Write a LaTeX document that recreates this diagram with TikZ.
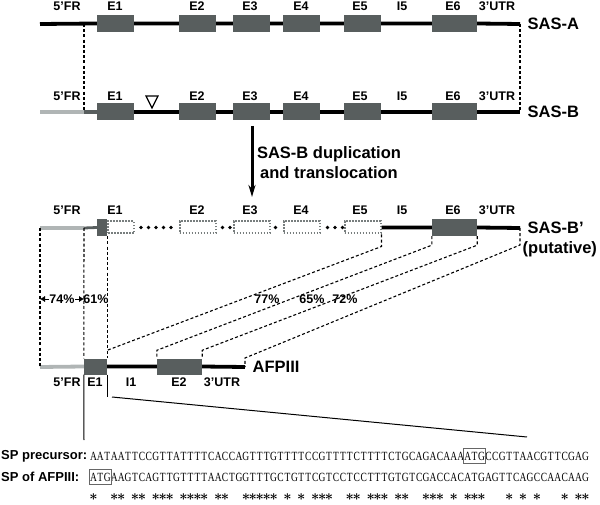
\documentclass[tikz,border=0pt]{standalone}
\usepackage{fontspec}
\setsansfont{Liberation Sans}
\newfontfamily\seqfont{Liberation Serif}
\usepackage{xstring}
\usetikzlibrary{arrows.meta,fit}
\definecolor{exongray}{RGB}{88,94,94}
\definecolor{frgray}{RGB}{176,181,181}
\definecolor{dotgray}{RGB}{120,126,126}
\tikzset{
  gene/.style={line width=3.8pt},
  exon/.style={fill=exongray, inner sep=0pt, minimum height=17pt},
  ghost/.style={draw=dotgray, line width=2pt, dash pattern=on 1.6pt off 1.4pt, inner sep=0pt, minimum height=12pt},
  beads/.style={line width=3.8pt, line cap=round, dash pattern=on 0pt off 7.5pt},
  link/.style={line width=1.1pt, dash pattern=on 3pt off 2.2pt},
  lab/.style={font=\sffamily\bfseries\fontsize{12.5}{12.5}\selectfont, inner sep=0.5pt},
  big/.style={font=\sffamily\bfseries\fontsize{16.5}{20}\selectfont, inner sep=0.5pt},
  seqlab/.style={font=\sffamily\bfseries\fontsize{13}{13}\selectfont, inner sep=0pt, anchor=west},
  nt/.style={anchor=base, inner sep=0pt, font=\seqfont\fontsize{12.5}{12.5}\selectfont},
  idmark/.style={inner sep=0pt, font=\fontsize{13.5}{13.5}\selectfont\boldmath},
  atgbox/.style={draw=black!60, line width=0.7pt, inner xsep=0.3pt, inner ysep=3pt},
}
% letters of both sequences on one grid, a mark where they agree
\newcommand\seqpair[2]{%
  \foreach \i in {1,...,72}{%
    \StrChar{#1}{\i}[\resA]\StrChar{#2}{\i}[\resB]%
    \node[nt] (s\i) at ({90+(\i-0.5)*6.93},460) {\scalebox{0.76}[1]{\resA}};
    \node[nt] (t\i) at ({90+(\i-0.5)*6.93},481) {\scalebox{0.76}[1]{\resB}};
    \ifx\resA\resB \node[idmark] (m\i) at ({90+(\i-0.5)*6.93},497) {$\ast$};\fi
  }}

\begin{document}
\begin{tikzpicture}[x=1pt,y=-1pt]
			%%%%% START %%%%%
			\useasboundingbox (0,0) rectangle (600,505);
			
			%%%%% SAS-A
			\coordinate (a-start) at (40,24);
			\coordinate (a-fr) at (84,24);
			\coordinate (a-end) at (520,24);
			\node[exon, minimum width=37pt] (a1) at (115.5,23.5) {};
			\node[exon, minimum width=37pt] (a2) at (197.5,23.5) {};
			\node[exon, minimum width=37pt] (a3) at (251.5,23.5) {};
			\node[exon, minimum width=37pt] (a4) at (301.5,23.5) {};
			\node[exon, minimum width=37pt] (a5) at (362.5,23.5) {};
			\node[exon, minimum width=45pt] (a6) at (454.5,23.5) {};
			\draw[gene] (a-start) -- (a1.west) (a1.east) -- (a2.west) (a2.east) -- (a3.west)
				(a3.east) -- (a4.west) (a4.east) -- (a5.west) (a5.east) -- (a6.west) (a6.east) -- (a-end);
			\foreach \x/\t [count=\k] in {67/5'FR, 115/E1, 197/E2, 250/E3, 301/E4, 360/E5, 402/I5, 453/E6, 497/3'UTR}
				\node[lab] (la\k) at (\x,6) {\t};
			\node[big, anchor=west] (sasA) at (527,24) {SAS-A};
			
			%%%%% SAS-B
			\coordinate (b-start) at (40,112);
			\coordinate (b-fr) at (84,112);
			\coordinate (b-end) at (520,112);
			\node[exon, minimum width=37pt] (b1) at (115.5,112) {};
			\node[exon, minimum width=37pt] (b2) at (197.5,112) {};
			\node[exon, minimum width=37pt] (b3) at (251.5,112) {};
			\node[exon, minimum width=37pt] (b4) at (301.5,112) {};
			\node[exon, minimum width=37pt] (b5) at (362.5,112) {};
			\node[exon, minimum width=45pt] (b6) at (454.5,112) {};
			\draw[gene, frgray] (b-start) -- (b-fr);
			\draw[gene, exongray] (b-fr) -- (b1.west);
			\draw[gene] (b1.east) -- (b2.west) (b2.east) -- (b3.west)
				(b3.east) -- (b4.west) (b4.east) -- (b5.west) (b5.east) -- (b6.west) (b6.east) -- (b-end);
			\draw[line width=1.2pt] (146,96) -- (158,96) -- (152,108) -- cycle;
			\foreach \x/\t [count=\k] in {67/5'FR, 115/E1, 197/E2, 250/E3, 301/E4, 360/E5, 402/I5, 453/E6, 497/3'UTR}
				\node[lab] (lb\k) at (\x,96) {\t};
			\node[big, anchor=west] (sasB) at (527,112) {SAS-B};
			
			\draw[link] (a-fr) -- (b-fr);
			\draw[link] (a-end) -- (b-end);
			
			%%%%% duplication arrow
			\coordinate (dup-top) at (252,126);
			\coordinate (dup-tip) at (252,197);
			\draw[line width=3pt, -{Stealth[length=12pt,width=7pt]}] (dup-top) -- (dup-tip);
			\node[big, align=center] (dup) at (329,163) {SAS-B duplication\\and translocation};
			
			%%%%% SAS-B' (putative)
			\coordinate (c-start) at (40,228);
			\coordinate (c-fr) at (84,228);
			\coordinate (c-end) at (520,228);
			\node[exon, minimum width=10pt] (c0) at (102,227.5) {};
			\node[ghost, minimum width=26pt] (c1) at (121,227.5) {};
			\node[ghost, minimum width=36pt] (c2) at (197.5,227.5) {};
			\node[ghost, minimum width=36pt] (c3) at (251.5,227.5) {};
			\node[ghost, minimum width=36pt] (c4) at (301.5,227.5) {};
			\node[ghost, minimum width=36pt] (c5) at (362.5,227.5) {};
			\node[exon, minimum width=45pt] (c6) at (454.5,227.5) {};
			\draw[gene, frgray] (c-start) -- (c-fr);
			\draw[gene, exongray, line width=2.8pt] (c-fr) -- (c0.west);
			\draw[beads] ([xshift=6pt]c1.east) -- (c2.west);
			\draw[beads] ([xshift=6pt]c2.east) -- (c3.west);
			\draw[beads] ([xshift=5pt]c3.east) -- (c4.west);
			\draw[beads] ([xshift=7pt]c4.east) -- (c5.west);
			\draw[gene] (c5.east) -- (c6.west) (c6.east) -- (c-end);
			\foreach \x/\t [count=\k] in {67/5'FR, 115/E1, 197/E2, 250/E3, 301/E4, 360/E5, 402/I5, 453/E6, 497/3'UTR}
				\node[lab] (lc\k) at (\x,210) {\t};
			\node[big, anchor=west] (sasBp) at (527,228) {SAS-B'};
			\node[big, anchor=west] (puta) at (522,249) {(putative)};
			
			%%%%% AFPIII
			\coordinate (d-start) at (40,367);
			\coordinate (d-end) at (245,367);
			\node[exon, minimum width=23pt, minimum height=16pt] (d1) at (95.5,366.5) {};
			\node[exon, minimum width=45pt, minimum height=16pt] (d2) at (179.5,366.5) {};
			\draw[gene, frgray] (d-start) -- (d1.west);
			\draw[gene] (d1.east) -- (d2.west) (d2.east) -- (d-end);
			\node[lab] (ld1) at (67,382) {5'FR};
			\node[lab] (ld2) at (95,382) {E1};
			\node[lab] (ld3) at (131,382) {I1};
			\node[lab] (ld4) at (179,382) {E2};
			\node[lab] (ld5) at (222,382) {3'UTR};
			\node[big, anchor=west] (afp) at (252,367) {AFPIII};
			
			%%%%% dashed links SAS-B' -> AFPIII
			\draw[link] (c-start) -- (d-start);
			\draw[link] (c-fr) -- (d1.north west);
			\draw[link] (c0.south east) -- (d1.north east);
			\draw[link] (c5.south east) -- ++(0,12) -- ([yshift=8pt]d1.north east);
			\draw[link] (c6.south west) -- ++(0,9) -- ([yshift=8pt]d2.north west) -- (d2.north west);
			\draw[link] (c6.south east) -- ++(0,9) -- ([yshift=8pt]d2.north east) -- (d2.north east);
			\draw[link] (c-end) -- ++(0,17) -- ([yshift=9pt]d-end) -- (d-end);
			
			\node[lab] (p74) at (62,299) {74\%};
			\draw[-{Latex[length=5pt,width=6pt]}] (p74.west) -- (p74.west -| c-start);
			\draw[-{Latex[length=5pt,width=6pt]}] (p74.east) -- (p74.east -| c-fr);
			\node[lab] (p61) at (96,299) {61\%};
			\node[lab] (p77) at (267,299) {77\%};
			\node[lab] (p65) at (312,299) {65\%};
			\node[lab] (p72) at (345,299) {72\%};
			
			%%%%% zoom onto E1
			\coordinate (zoom-l) at (84,440);
			\coordinate (zoom-a) at (112,397);
			\coordinate (zoom-b) at (527,437);
			\draw[line width=1pt] (d1.south west) -- (zoom-l);
			\draw[line width=1pt] (d1.south east) -- ++(0,22);
			\draw[line width=1pt] (zoom-a) -- (zoom-b);
			
			%%%%% signal peptides
			\node[seqlab] (splab1) at (1,456) {SP precursor:};
			\node[seqlab] (splab2) at (1,477) {SP of AFPIII:};
			\seqpair{AATAATTCCGTTATTTTCACCAGTTTGTTTTCCGTTTTCTTTTCTGCAGACAAAATGCCGTTAACGTTCGAG}%
				{ATGAAGTCAGTTGTTTTAACTGGTTTGCTGTTCGTCCTCCTTTGTGTCGACCACATGAGTTCAGCCAACAAG}
			\node[atgbox, fit=(s55)(s57)] (atg1) {};
			\node[atgbox, fit=(t1)(t3)] (atg2) {};
			
			%%%%% END %%%%%
\end{tikzpicture}
\end{document}
